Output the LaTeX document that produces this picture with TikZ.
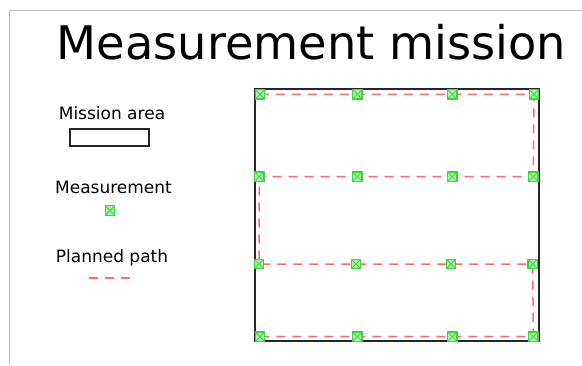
\documentclass[tikz,border=0pt]{standalone}
\usepackage{fontspec}
\setmainfont{DejaVu Sans}
\definecolor{mgreen}{RGB}{60,215,60}
\definecolor{mfill}{RGB}{175,240,175}
\definecolor{pathred}{RGB}{248,110,110}
\definecolor{framegray}{RGB}{190,190,190}
\begin{document}
\begin{tikzpicture}[x=1pt,y=-1pt,
  meas/.style={rectangle,draw=mgreen,fill=mfill,line width=1.3pt,minimum size=9.5pt,inner sep=0pt,
    path picture={\draw[mgreen,line width=0.8pt] (path picture bounding box.north west) -- (path picture bounding box.south east)
      (path picture bounding box.north east) -- (path picture bounding box.south west);}},
  plan/.style={pathred,line width=1.5pt,dash pattern=on 9pt off 7pt},
  area/.style={draw=black!85,line width=2pt},
  lbl/.style={font=\fontsize{17}{19}\selectfont,anchor=base,inner sep=0pt}]
\useasboundingbox (0,0) rectangle (582,365);
% frame
\draw[framegray,line width=1.5pt] (9.5,365) -- (9.5,10.5) -- (582,10.5);
% title
\node[anchor=base,inner sep=0pt,font=\fontsize{46.3}{50}\selectfont] (title) at (311.5,59) {Measurement mission};
% legend
\node[lbl] (lgarea) at (112,119) {Mission area};
\draw[area] (70,129) rectangle (149,145.5);
\node[lbl] (lgmeas) at (113.5,193) {Measurement};
\node[meas] (lgm) at (110,210.5) {};
\node[lbl] (lgpath) at (112,262) {Planned path};
\coordinate (lp1) at (89,278);
\coordinate (lp2) at (133,278);
\draw[plan] (lp1) -- (lp2);
% mission area
\node[area,rectangle,minimum width=284pt,minimum height=252pt,inner sep=0pt] (area) at (397,215) {};
% markers
\foreach \r/\y/\xa/\xb/\xc/\xd in {1/94.3/260/357.3/452.3/534,2/176.7/259.3/357.3/452.3/533.3,3/264/259/356/451/532.7,4/336.7/260/357.3/452.3/533.3}{
  \coordinate (c\r1) at (\xa,\y);
  \coordinate (c\r2) at (\xb,\y);
  \coordinate (c\r3) at (\xc,\y);
  \coordinate (c\r4) at (\xd,\y);
}
\draw[plan] (c11) -- (c14) -- (c24) -- (c21) -- (c31) -- (c34) -- (c44) -- (c41);
\foreach \r in {1,2,3,4}{
  \foreach \c in {1,2,3,4}{
    \node[meas] (m\r\c) at (c\r\c) {};
  }
}
\end{tikzpicture}
\end{document}
